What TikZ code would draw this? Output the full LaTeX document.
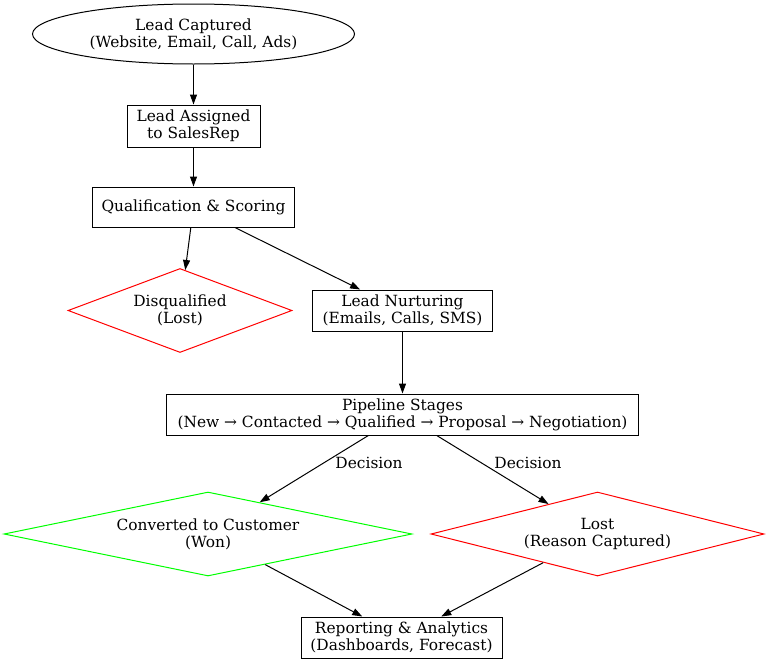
\documentclass[tikz,border=0pt]{standalone}
\usepackage{fontspec}
\setmainfont{DejaVu Serif}
\usetikzlibrary{shapes.geometric,arrows.meta}
\definecolor{gvred}{RGB}{255,0,0}
\definecolor{gvgreen}{RGB}{0,255,0}
\begin{document}
\begin{tikzpicture}[x=1pt,y=-1pt,
  every node/.style={font=\fontsize{15.4}{17}\selectfont, align=center, inner sep=0pt},
  box/.style={draw, line width=1pt, minimum height=41pt},
  oval/.style={draw, ellipse, line width=1pt},
  dia/.style={draw, diamond, line width=1pt, shape aspect=4},
  edge/.style={draw, line width=1pt, -{Triangle[length=10pt,width=7pt]}},
  lbl/.style={font=\fontsize{15.4}{17}\selectfont}
]
\useasboundingbox (0,0) rectangle (768,664);
\fill[white] (0,0) rectangle (768,664);

\node[oval, minimum width=322pt, minimum height=60pt] (cap) at (193.5,34) {Lead Captured\\(Website, Email, Call, Ads)};
\node[box, minimum width=133pt, minimum height=42pt] (assign) at (193.5,126) {Lead Assigned\\to SalesRep};
\node[box, minimum width=202pt, minimum height=40pt] (qual) at (193.5,207) {Qualification \& Scoring};
\node[dia, draw=gvred, minimum width=224pt, minimum height=84pt] (disq) at (180,310.5) {Disqualified\\(Lost)};
\node[box, minimum width=180pt] (nurt) at (402.5,310.5) {Lead Nurturing\\(Emails, Calls, SMS)};
\node[box, minimum width=472pt] (pipe) at (402.5,414.5) {Pipeline Stages\\(New → Contacted → Qualified → Proposal → Negotiation)};
\node[dia, draw=gvgreen, minimum width=408pt, minimum height=84pt] (won) at (208,534) {Converted to Customer\\(Won)};
\node[dia, draw=gvred, minimum width=333pt, minimum height=84pt] (lost) at (597.5,534) {Lost\\(Reason Captured)};
\node[box, minimum width=201pt] (rep) at (401.5,637.5) {Reporting \& Analytics\\(Dashboards, Forecast)};

\path[edge] (cap) -- (assign);
\path[edge] (assign) -- (qual);
\path[edge] (qual) -- (disq);
\path[edge] (qual) -- (nurt);
\path[edge] (nurt) -- (pipe);
\path[edge] (pipe) -- (won);
\path[edge] (pipe) -- (lost);
\path[edge] (won) -- (rep);
\path[edge] (lost) -- (rep);

\node[lbl] (d1) at (369,463) {Decision};
\node[lbl] (d2) at (528,463) {Decision};
\end{tikzpicture}
\end{document}
